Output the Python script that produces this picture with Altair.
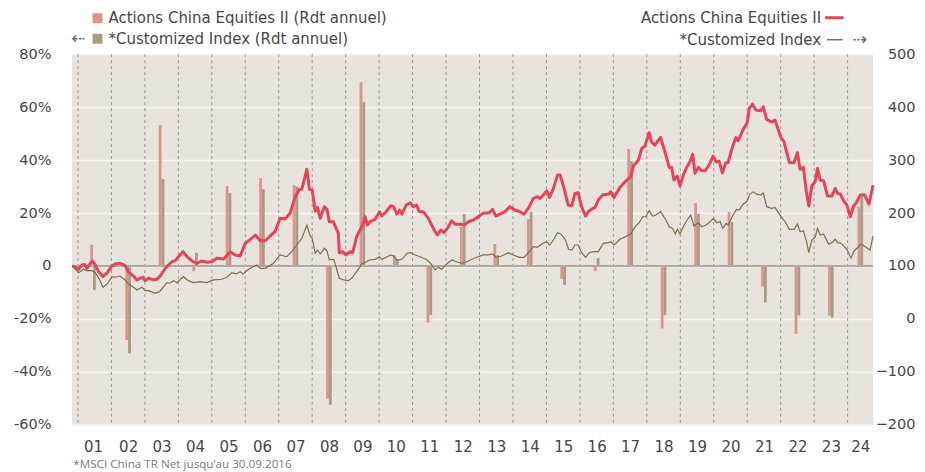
import altair as alt
import pandas as pd

# ---------------- data ----------------
years = list(range(2001, 2025))
# centre of each (visible) calendar year, used for annual bars and year labels
bar_pos = [2001.45] + [y + 0.5 for y in range(2002, 2024)] + [2024.38]

fund_annual = [8.0, -28.0, 53.2, -2.0, 30.2, 33.2, 30.5, -50.2, 69.4, 4.1, -21.4, 14.8,
               8.3, 17.7, -4.9, -1.9, 44.2, -23.6, 23.8, 20.4, -7.8, -25.7, -18.7, 22.4]
index_annual = [-9.0, -33.0, 32.8, 5.0, 27.6, 29.0, 30.0, -52.4, 61.9, 2.3, -18.5, 19.6,
                4.1, 20.4, -7.2, 3.0, 39.6, -18.5, 19.7, 16.6, -13.8, -18.7, -19.5, 26.2]

fund_t = [2000.83, 2000.92, 2001.02, 2001.12, 2001.19, 2001.27, 2001.37, 2001.44, 2001.52, 2001.62,
          2001.75, 2001.87, 2002.02, 2002.11, 2002.26, 2002.41, 2002.51, 2002.66, 2002.76, 2002.86,
          2002.94, 2003.01, 2003.11, 2003.26, 2003.36, 2003.46, 2003.61, 2003.71, 2003.81, 2003.91,
          2004.00, 2004.14, 2004.26, 2004.41, 2004.55, 2004.70, 2004.85, 2005.00, 2005.15, 2005.35,
          2005.55, 2005.70, 2005.85, 2006.00, 2006.15, 2006.30, 2006.45, 2006.60, 2006.74, 2006.89,
          2007.04, 2007.19, 2007.34, 2007.49, 2007.62, 2007.69, 2007.84, 2007.92, 2008.00, 2008.09,
          2008.16, 2008.24, 2008.36, 2008.44, 2008.51, 2008.63, 2008.78, 2008.81, 2008.91, 2009.01,
          2009.13, 2009.21, 2009.33, 2009.43, 2009.51, 2009.58, 2009.65, 2009.73, 2009.88, 2010.01,
          2010.08, 2010.21, 2010.35, 2010.43, 2010.53, 2010.61, 2010.68, 2010.81, 2010.93, 2011.02,
          2011.12, 2011.20, 2011.32, 2011.47, 2011.62, 2011.74, 2011.84, 2011.94, 2012.07, 2012.17,
          2012.27, 2012.42, 2012.54, 2012.67, 2012.82, 2012.96, 2013.11, 2013.29, 2013.39, 2013.49,
          2013.61, 2013.76, 2013.91, 2014.06, 2014.21, 2014.33, 2014.46, 2014.61, 2014.73, 2014.81,
          2014.91, 2015.01, 2015.09, 2015.21, 2015.33, 2015.41, 2015.50, 2015.65, 2015.76, 2015.85,
          2015.95, 2016.05, 2016.17, 2016.25, 2016.35, 2016.45, 2016.55, 2016.68, 2016.85, 2016.92,
          2017.02, 2017.20, 2017.40, 2017.52, 2017.60, 2017.75, 2017.85, 2017.94, 2018.07, 2018.14,
          2018.24, 2018.41, 2018.54, 2018.67, 2018.74, 2018.81, 2018.91, 2018.99, 2019.09, 2019.19,
          2019.29, 2019.37, 2019.44, 2019.54, 2019.64, 2019.74, 2019.86, 2019.98, 2020.07, 2020.16,
          2020.26, 2020.36, 2020.43, 2020.53, 2020.66, 2020.73, 2020.88, 2021.00, 2021.06, 2021.16,
          2021.26, 2021.40, 2021.48, 2021.58, 2021.73, 2021.83, 2022.00, 2022.10, 2022.26, 2022.40,
          2022.50, 2022.58, 2022.68, 2022.76, 2022.84, 2022.93, 2023.03, 2023.10, 2023.18, 2023.28,
          2023.40, 2023.53, 2023.63, 2023.70, 2023.78, 2023.88, 2023.98, 2024.08, 2024.18, 2024.26,
          2024.38, 2024.51, 2024.64, 2024.76]
fund_v = [100.0, 97.5, 93.8, 102.0, 103.0, 95.6, 105.0, 109.4, 102.0, 89.0,
          80.0, 87.0, 100.0, 103.8, 105.0, 100.6, 89.0, 81.0, 73.6, 76.8,
          78.7, 72.0, 76.8, 73.6, 75.0, 81.0, 95.6, 102.0, 108.0, 110.0,
          117.5, 127.0, 117.5, 109.4, 105.0, 109.4, 107.0, 108.0, 114.5, 113.0,
          127.0, 120.8, 119.0, 143.0, 150.0, 158.5, 147.7, 147.7, 156.6, 164.7,
          190.0, 188.7, 199.4, 230.8, 244.7, 244.7, 282.5, 244.7, 243.4, 203.8,
          210.7, 190.0, 212.0, 207.0, 183.6, 183.6, 161.7, 125.0, 127.0, 120.8,
          127.0, 125.0, 155.3, 168.0, 177.4, 193.0, 177.4, 183.6, 188.0, 202.5,
          194.3, 202.5, 213.8, 212.0, 198.0, 205.7, 198.0, 215.0, 219.5, 212.0,
          215.0, 202.5, 202.5, 190.0, 171.0, 158.5, 168.0, 163.0, 174.0, 185.5,
          179.0, 179.0, 177.4, 183.6, 186.8, 193.0, 199.4, 200.6, 207.0, 194.3,
          198.0, 202.5, 212.0, 205.7, 202.5, 198.0, 208.8, 227.7, 230.8, 227.7,
          234.0, 242.0, 229.6, 246.6, 271.7, 271.7, 252.8, 215.0, 213.8, 237.0,
          238.3, 212.0, 194.3, 202.5, 207.0, 210.7, 224.5, 234.0, 235.8, 240.0,
          229.6, 248.5, 262.3, 268.5, 288.7, 300.0, 322.0, 326.4, 351.6, 334.5,
          328.3, 342.8, 315.7, 286.2, 286.2, 262.3, 269.8, 251.0, 271.7, 286.2,
          296.8, 311.3, 275.0, 286.2, 279.8, 279.8, 290.6, 307.5, 296.8, 298.0,
          276.0, 295.0, 295.0, 319.0, 342.8, 336.4, 358.0, 370.4, 397.6, 405.7,
          394.4, 393.0, 400.6, 376.8, 372.3, 375.5, 344.0, 334.5, 295.0, 295.0,
          313.8, 282.5, 286.2, 243.4, 213.2, 251.0, 259.0, 284.3, 262.3, 261.0,
          232.0, 232.0, 246.6, 237.0, 235.8, 223.2, 215.0, 193.0, 213.2, 219.5,
          234.0, 234.0, 217.0, 252.8]

index_t = [2000.83, 2001.02, 2001.17, 2001.27, 2001.42, 2001.52, 2001.65, 2001.75, 2001.87, 2002.02,
           2002.11, 2002.26, 2002.41, 2002.51, 2002.64, 2002.76, 2002.91, 2003.01, 2003.11, 2003.31,
           2003.44, 2003.66, 2003.74, 2003.86, 2003.96, 2004.15, 2004.30, 2004.45, 2004.65, 2004.85,
           2005.05, 2005.30, 2005.45, 2005.60, 2005.73, 2005.85, 2005.93, 2006.10, 2006.35, 2006.45,
           2006.60, 2006.84, 2007.04, 2007.24, 2007.39, 2007.54, 2007.69, 2007.84, 2007.94, 2008.00,
           2008.09, 2008.16, 2008.24, 2008.36, 2008.44, 2008.51, 2008.65, 2008.81, 2008.95, 2009.08,
           2009.18, 2009.33, 2009.48, 2009.63, 2009.71, 2009.88, 2010.01, 2010.08, 2010.21, 2010.35,
           2010.43, 2010.53, 2010.68, 2010.84, 2010.94, 2011.07, 2011.22, 2011.40, 2011.54, 2011.67,
           2011.77, 2011.87, 2012.02, 2012.17, 2012.32, 2012.47, 2012.62, 2012.77, 2012.92, 2013.11,
           2013.26, 2013.40, 2013.49, 2013.66, 2013.86, 2014.01, 2014.19, 2014.33, 2014.46, 2014.61,
           2014.73, 2014.86, 2015.01, 2015.09, 2015.21, 2015.33, 2015.43, 2015.56, 2015.66, 2015.76,
           2015.85, 2015.95, 2016.05, 2016.17, 2016.28, 2016.40, 2016.55, 2016.70, 2016.85, 2016.92,
           2017.02, 2017.20, 2017.40, 2017.52, 2017.65, 2017.77, 2017.88, 2017.97, 2018.07, 2018.17,
           2018.27, 2018.41, 2018.54, 2018.67, 2018.77, 2018.85, 2018.91, 2018.99, 2019.09, 2019.19,
           2019.31, 2019.41, 2019.54, 2019.64, 2019.77, 2019.89, 2019.99, 2020.09, 2020.19, 2020.27,
           2020.37, 2020.43, 2020.56, 2020.68, 2020.76, 2020.88, 2020.98, 2021.08, 2021.18, 2021.28,
           2021.40, 2021.48, 2021.58, 2021.73, 2021.83, 2021.98, 2022.13, 2022.26, 2022.40, 2022.50,
           2022.58, 2022.68, 2022.78, 2022.84, 2022.93, 2023.03, 2023.10, 2023.18, 2023.28, 2023.43,
           2023.53, 2023.63, 2023.70, 2023.80, 2023.90, 2024.00, 2024.10, 2024.18, 2024.28, 2024.40,
           2024.53, 2024.67, 2024.76]
index_v = [100.0, 87.4, 93.8, 91.2, 91.2, 87.4, 73.6, 59.8, 66.0, 79.8,
           78.7, 81.0, 73.6, 66.0, 61.0, 54.7, 59.8, 53.4, 53.4, 48.5,
           51.5, 68.5, 67.4, 72.3, 68.5, 79.8, 72.3, 68.5, 70.4, 68.5,
           73.6, 74.9, 78.7, 87.4, 85.0, 89.2, 85.0, 93.8, 102.0, 95.6,
           95.6, 105.0, 120.8, 117.5, 127.0, 139.6, 152.3, 177.4, 156.6, 152.3,
           124.0, 130.2, 122.6, 133.4, 128.5, 112.0, 112.0, 76.8, 73.6, 72.3,
           76.8, 89.2, 103.8, 108.0, 111.3, 112.6, 117.5, 112.6, 116.4, 120.8,
           118.9, 111.3, 112.6, 124.0, 125.1, 120.8, 117.5, 112.6, 105.0, 92.5,
           97.5, 93.8, 103.8, 111.3, 108.0, 105.0, 108.0, 112.6, 116.4, 120.8,
           120.8, 122.6, 116.4, 118.9, 125.1, 120.8, 116.4, 116.4, 125.1, 136.4,
           135.3, 141.5, 145.9, 139.6, 149.0, 162.8, 160.4, 150.4, 131.5, 130.2,
           139.6, 139.6, 125.1, 116.4, 125.1, 127.0, 127.0, 142.8, 144.0, 145.9,
           139.6, 150.4, 156.6, 160.4, 174.2, 181.7, 193.0, 193.0, 204.4, 194.3,
           196.2, 202.5, 190.0, 174.2, 171.0, 160.4, 169.3, 160.4, 174.2, 185.5,
           196.2, 175.5, 181.7, 174.2, 177.4, 183.6, 190.0, 181.7, 183.6, 171.0,
           180.6, 177.4, 194.3, 207.0, 205.7, 217.0, 221.3, 235.8, 240.0, 235.8,
           234.0, 238.3, 212.0, 208.8, 210.7, 196.2, 183.6, 169.3, 169.3, 179.3,
           164.7, 166.6, 144.0, 125.1, 149.0, 154.2, 171.0, 158.5, 160.4, 141.5,
           144.0, 150.4, 144.0, 142.8, 136.4, 128.9, 114.5, 127.0, 133.4, 141.5,
           136.4, 130.2, 156.6]

pct_ticks = [-60, -40, -20, 0, 20, 40, 60, 80]
index_ticks = [-200, -100, 0, 100, 200, 300, 400, 500]

legend_left = ["Actions China Equities II (Rdt annuel)", "*Customized Index (Rdt annuel)"]
legend_right = ["Actions China Equities II", "*Customized Index"]
footnote = "*MSCI China TR Net jusqu\u2019au 30.09.2016"

# ---------------- styling ----------------
FONT = "DejaVu Sans"
TXT = "#464646"
PINK = "#dc948d"
TAN = "#a89b87"
RED = "#e1465a"
BROWN = "#7f6d4c"
BG = "#e8e3dc"

W, H = 802, 371
xs = alt.Scale(domain=[2000.82, 2024.76], nice=False, zero=False, padding=0)
ypct = alt.Scale(domain=[-60, 80], nice=False, zero=False, padding=0)
yidx = alt.Scale(domain=[-200, 500], nice=False, zero=False)

x_axis = alt.Axis(orient="bottom", values=bar_pos, title=None,
                  labelExpr="slice(toString(floor(datum.value)), 2)",
                  ticks=False, domain=False, grid=False, labelPadding=15,
                  labelFont=FONT, labelFontSize=15, labelColor=TXT,
                  labelFlush=False, labelOverlap=False)
y_left = alt.Axis(orient="left", values=pct_ticks, title=None,
                  labelExpr="datum.value == 0 ? '0' : datum.value + '%'",
                  ticks=False, domain=False, grid=True, gridColor="#f7f5f1",
                  gridWidth=1.5, labelPadding=21, labelFont=FONT,
                  labelFontSize=14.5, labelColor=TXT)
y_right = alt.Axis(orient="right", values=index_ticks, title=None,
                   ticks=False, domain=False, grid=False, labelAlign="right",
                   labelPadding=42, labelFont=FONT, labelFontSize=14.5,
                   labelColor=TXT)

bars_df = pd.DataFrame({"pos": bar_pos, "fund": fund_annual, "index": index_annual})
years_df = pd.DataFrame({"yr": years})
zero_df = pd.DataFrame({"z": [0]})
fund_df = pd.DataFrame({"t": fund_t, "v": fund_v})
index_df = pd.DataFrame({"t": index_t, "v": index_v})
one = pd.DataFrame({"a": [0]})

vlines = alt.Chart(years_df).mark_rule(color="#9d978f", strokeDash=[3, 3], strokeWidth=1).encode(
    x=alt.X("yr:Q", scale=xs, axis=x_axis))
pink_bars = alt.Chart(bars_df).mark_bar(color=PINK, width=2.8, xOffset=-1.4).encode(
    x=alt.X("pos:Q", scale=xs, axis=x_axis),
    y=alt.Y("fund:Q", scale=ypct, axis=y_left))
tan_bars = alt.Chart(bars_df).mark_bar(color=TAN, width=2.8, xOffset=1.4).encode(
    x=alt.X("pos:Q", scale=xs, axis=x_axis),
    y=alt.Y("index:Q", scale=ypct, axis=y_left))
zero_line = alt.Chart(zero_df).mark_rule(color="#b1aaa1", strokeWidth=2).encode(
    y=alt.Y("z:Q", scale=ypct, axis=y_left))

pct_layer = alt.layer(vlines, pink_bars, tan_bars, zero_line)

index_line = alt.Chart(index_df).mark_line(color=BROWN, strokeWidth=1.2).encode(
    x=alt.X("t:Q", scale=xs, axis=x_axis),
    y=alt.Y("v:Q", scale=yidx, axis=y_right))
fund_line = alt.Chart(fund_df).mark_line(color=RED, strokeWidth=3, strokeJoin="round").encode(
    x=alt.X("t:Q", scale=xs, axis=x_axis),
    y=alt.Y("v:Q", scale=yidx, axis=y_right))

idx_layer = alt.layer(index_line, fund_line)

# ---------------- legends & footnote ----------------
def txt(s, x, y, align="left", size=15, color=TXT, font=FONT):
    return alt.Chart(one).mark_text(text=s, align=align, baseline="middle", fontSize=size,
                                    color=color, font=font).encode(
        x=alt.value(x), y=alt.value(y))

def rect(x, x2, y, y2, color):
    return alt.Chart(one).mark_rect(color=color).encode(
        x=alt.value(x), x2=alt.value(x2), y=alt.value(y), y2=alt.value(y2))

def seg(x, x2, y, color, w):
    return alt.Chart(one).mark_rule(color=color, strokeWidth=w).encode(
        x=alt.value(x), x2=alt.value(x2), y=alt.value(y))

legend = [
    rect(20.6, 30.6, -41, -31, PINK),
    txt(legend_left[0], 36.6, -36),
    txt("\u21e0", 6.5, -15, align="center", size=17, color="#666666"),
    rect(20.6, 30.6, -20.5, -10.5, TAN),
    txt(legend_left[1], 36.6, -15.5),
    txt(legend_right[0], 750, -36.5, align="right"),
    seg(754, 772.5, -36.5, RED, 3),
    txt(legend_right[1], 750, -14.5, align="right"),
    seg(756, 771.5, -14.5, BROWN, 1.5),
    txt("\u21e2", 788.5, -14.5, align="center", size=17, color="#666666"),
    txt(footnote, 1.3, 410, size=11.7, color="#7a7a7a", font="Open Sans"),
]

chart = alt.layer(pct_layer, idx_layer, *legend).resolve_scale(y="independent").properties(
    width=W, height=H,
    autosize=alt.AutoSizeParams(type="none"),
    padding={"left": 64, "top": 46, "right": 44, "bottom": 46},
).configure_view(fill=BG, strokeWidth=0)

chart.save("out.html", embed_options={"renderer": "svg", "actions": False})
